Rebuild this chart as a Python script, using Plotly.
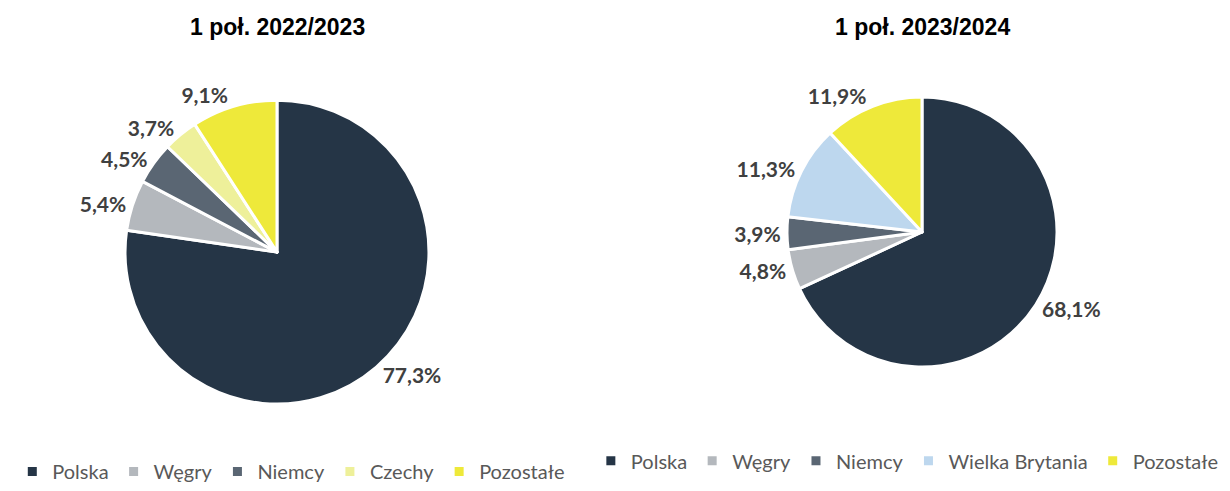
import plotly.graph_objects as go

cats1 = ["Polska", "Węgry", "Niemcy", "Czechy", "Pozostałe"]
vals1 = [77.3, 5.4, 4.5, 3.7, 9.1]
colors1 = ["#253546", "#b4b8bd", "#5a6673", "#eef09a", "#eee93a"]

cats2 = ["Polska", "Węgry", "Niemcy", "Wielka Brytania", "Pozostałe"]
vals2 = [68.1, 4.8, 3.9, 11.3, 11.9]
colors2 = ["#253546", "#b4b8bd", "#5a6673", "#bdd7ee", "#eee93a"]

titles = ["1 poł. 2022/2023", "1 poł. 2023/2024"]

def fmt(v):
    return f"{v:.1f}".replace(".", ",") + "%"

lab_font = dict(family="Lato, Carlito, sans-serif", size=21, color="#404040", weight="bold")

fig = go.Figure()
pies = [
    (cats1, vals1, colors1, dict(x=[0.2252 - 0.16, 0.2252 + 0.16], y=[0.177, 0.796])),
    (cats2, vals2, colors2, dict(x=[0.7496 - 0.14, 0.7496 + 0.14], y=[0.2525, 0.8025])),
]
for cats, vals, cols, dom in pies:
    fig.add_trace(go.Pie(
        labels=cats, values=vals, text=[fmt(v) for v in vals],
        textinfo="text", textposition="outside", sort=False, direction="clockwise",
        rotation=0, marker=dict(colors=cols, line=dict(color="white", width=3)),
        domain=dom, showlegend=False, automargin=False,
        outsidetextfont=lab_font, hoverinfo="label+percent",
    ))

# legend entries (one legend per pie)
for legname, cats, cols in [("legend", cats1, colors1), ("legend2", cats2, colors2)]:
    for c, col in zip(cats, cols):
        fig.add_trace(go.Scatter(
            x=[None], y=[None], mode="markers", name=c, legend=legname,
            marker=dict(symbol="square", size=9, color=col), showlegend=True,
        ))

leg_font = dict(family="Lato, Carlito, sans-serif", size=20, color="#595959")
fig.update_layout(
    width=1230, height=491, paper_bgcolor="white", plot_bgcolor="white",
    margin=dict(l=0, r=0, t=0, b=0),
    xaxis=dict(visible=False), yaxis=dict(visible=False),
    legend=dict(orientation="h", x=0.01, y=0.0,
                xanchor="left", yanchor="bottom",
                font=leg_font, itemwidth=30, traceorder="normal"),
    legend2=dict(orientation="h", x=0.995, y=0.022,
                 xanchor="right", yanchor="bottom",
                 font=leg_font, itemwidth=30, traceorder="normal"),
    annotations=[
        dict(text=titles[0], x=277 / 1230, y=1 - 27 / 491, xref="paper", yref="paper",
             xanchor="center", yanchor="middle", showarrow=False,
             font=dict(family="Liberation Sans, Arial", size=23, color="#000000", weight="bold")),
        dict(text=titles[1], x=922 / 1230, y=1 - 27 / 491, xref="paper", yref="paper",
             xanchor="center", yanchor="middle", showarrow=False,
             font=dict(family="Liberation Sans, Arial", size=23, color="#000000", weight="bold")),
    ],
)
fig.write_html("out.html", config={"displayModeBar": False},
               post_script="document.body.style.margin='0';")
